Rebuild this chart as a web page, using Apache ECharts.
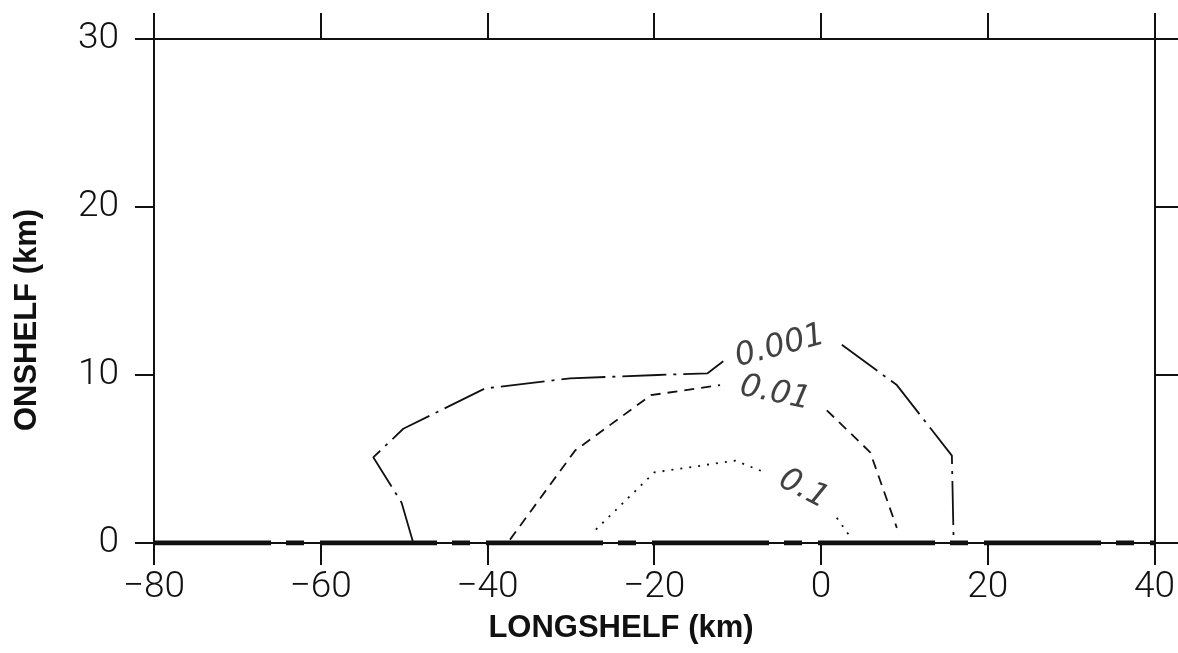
<!DOCTYPE html>
<html>
<head>
<meta charset="utf-8">
<script src="https://cdn.jsdelivr.net/npm/echarts@6/dist/echarts.min.js"></script>
<style>html,body{margin:0;padding:0;background:#fff;}#c{width:1178px;height:653px;}</style>
</head>
<body>
<div id="c"></div>
<script>
// ---- data (km) ----
const xTicks = [-80, -60, -40, -20, 0, 20, 40];
const yTicks = [0, 10, 20, 30];
const xTitle = 'LONGSHELF (km)';
const yTitle = 'ONSHELF (km)';
// contour 0.001 (dash-dot)
const c001Left  = [[-48.9,0.0],[-50.3,2.4],[-53.7,5.1],[-50.1,6.8],[-40.3,9.2],[-30.1,9.8],[-19.6,10.0],[-13.6,10.1],[-11.5,10.9]];
const c001Right = [[2.5,11.8],[9.1,9.4],[15.7,5.2],[15.9,0.3]];
// contour 0.01 (dashed)
const c01Left   = [[-37.3,0.2],[-29.5,5.5],[-20.4,8.8],[-12.1,9.4]];
const c01Right  = [[0.7,7.9],[5.9,5.4],[9.1,0.9]];
// contour 0.1 (dotted)
const c1Left    = [[-27.0,0.8],[-20.0,4.2],[-10.3,4.9],[-6.7,4.2]];
const c1Right   = [[1.9,1.5],[3.6,0.3]];
// contour labels: [x, y, text, rotation]
const contourLabels = [[-4.9,11.7,'0.001',15],[-5.5,8.9,'0.01',-12],[-2.1,3.2,'0.1',-28]];
// coastline along y = 0
const coast = [[-80,0],[40,0]];

const chart = echarts.init(document.getElementById('c'));
const ink = '#111';
const tickFont = {fontFamily:'Roboto,"Liberation Sans",sans-serif', fontWeight:300, fontSize:37, color:ink};
const fmt = v => String(v).replace('-', '\u2212');
const titleFont = 'bold 31px "Liberation Sans", Arial, sans-serif';

function lineSeries(data, type, width) {
  return {type:'line', data:data, symbol:'none', silent:true, animation:false,
          lineStyle:{color:ink, width:width, type:type}, z:3};
}

chart.setOption({
  animation:false,
  backgroundColor:'#fff',
  grid:{left:154, right:21, top:39, bottom:110},
  graphic:[
    {type:'text', x:621, y:628, silent:true,
     style:{text:xTitle, font:titleFont, fill:ink, align:'center', verticalAlign:'middle'}},
    {type:'text', x:27, y:320, rotation:Math.PI/2, silent:true,
     style:{text:yTitle, font:titleFont, fill:ink, align:'center', verticalAlign:'middle'}}
  ],
  xAxis:[
    {type:'value', position:'bottom', min:-80, max:40, interval:20,
     axisLine:{show:true, onZero:false, lineStyle:{color:ink, width:2}},
     axisTick:{show:true, length:22, lineStyle:{color:ink, width:2}},
     axisLabel:Object.assign({margin:26, formatter:fmt}, tickFont),
     splitLine:{show:false}},
    {type:'value', position:'top', min:-80, max:40, interval:20,
     axisLine:{show:true, onZero:false, lineStyle:{color:ink, width:2}},
     axisTick:{show:true, length:26, lineStyle:{color:ink, width:2}},
     axisLabel:{show:false}, splitLine:{show:false}}
  ],
  yAxis:[
    {type:'value', position:'left', min:0, max:30, interval:10,
     axisLine:{show:true, onZero:false, lineStyle:{color:ink, width:2}},
     axisTick:{show:true, length:19, lineStyle:{color:ink, width:2}},
     axisLabel:Object.assign({margin:35, formatter:fmt}, tickFont),
     splitLine:{show:false}},
    {type:'value', position:'right', min:0, max:30, interval:10,
     axisLine:{show:true, onZero:false, lineStyle:{color:ink, width:2}},
     axisTick:{show:true, length:24, lineStyle:{color:ink, width:2}},
     axisLabel:{show:false}, splitLine:{show:false}}
  ],
  series:[
    Object.assign(lineSeries(coast, [117,15,18,16], 5), {z:4}),
    lineSeries(c001Left, [44,7,3,7], 1.8),
    lineSeries(c001Right, [44,7,3,7], 1.8),
    lineSeries(c01Left, [10,7], 1.8),
    lineSeries(c01Right, [10,7], 1.8),
    lineSeries(c1Left, [2,7], 1.8),
    lineSeries(c1Right, [2,7], 1.8),
    {type:'scatter', symbolSize:0, silent:true, animation:false, z:5,
     data:contourLabels.map(d => ({value:[d[0], d[1]], label:{formatter:d[2], rotate:d[3]}})),
     label:{show:true, position:'inside', color:ink, fontSize:32, fontStyle:'italic',
            fontFamily:'"DejaVu Sans",sans-serif', fontWeight:200}}
  ]
});
</script>
</body>
</html>
